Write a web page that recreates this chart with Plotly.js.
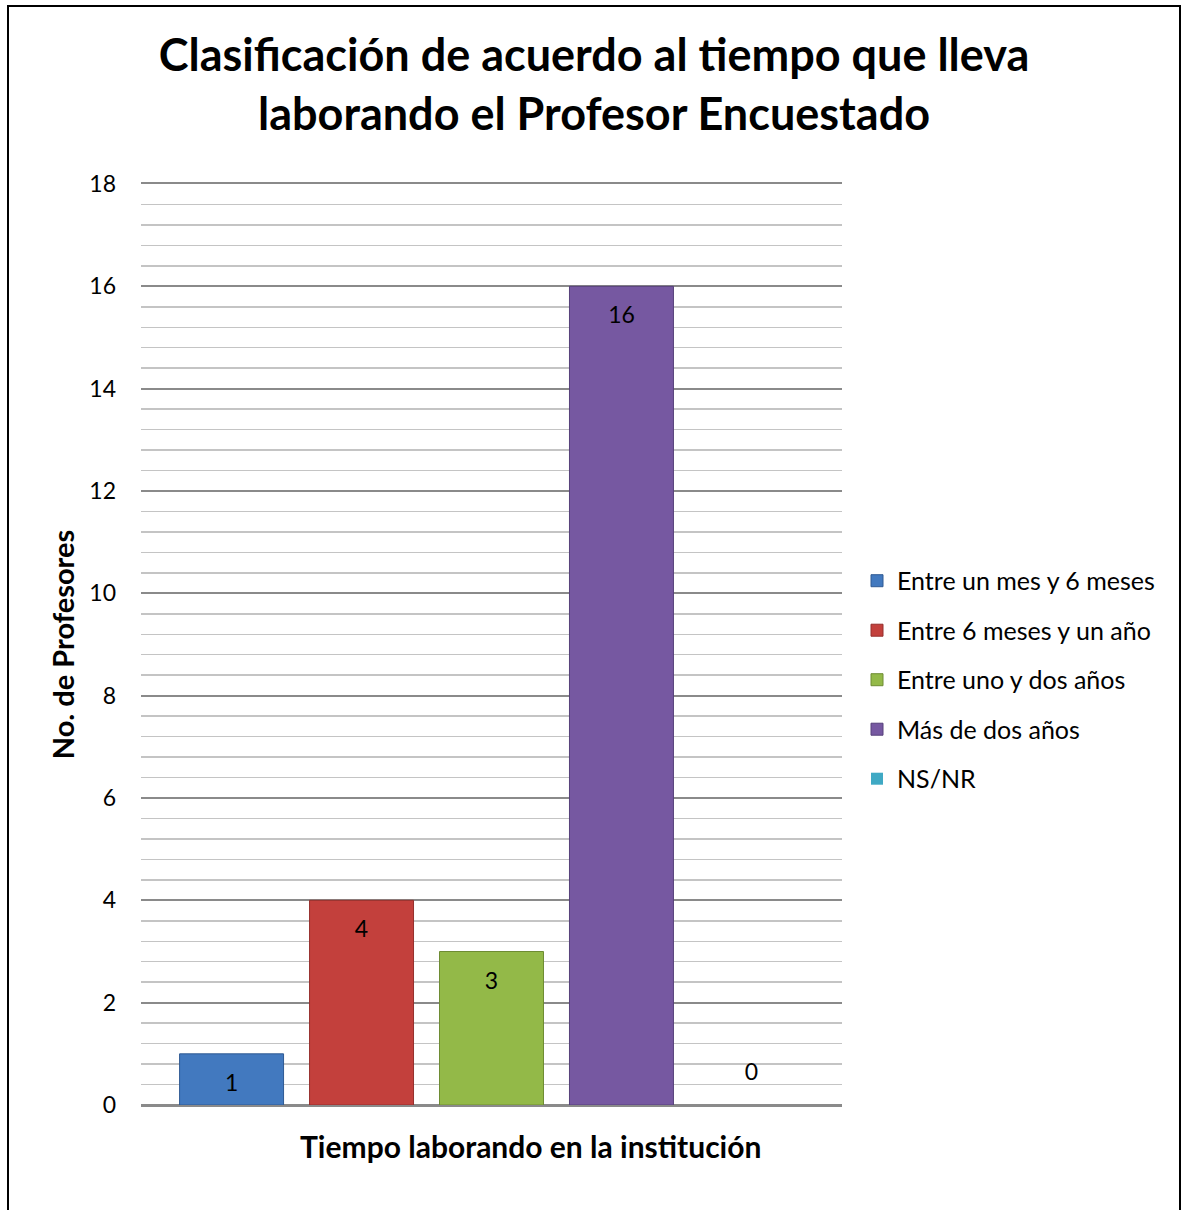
<!DOCTYPE html>
<html>
<head>
<meta charset="utf-8">
<script src="https://cdn.plot.ly/plotly-3.0.1.min.js"></script>
<style>
  html, body { margin: 0; padding: 0; background: #ffffff; }
  #wrap { position: relative; width: 1181px; height: 1210px; overflow: hidden; }
  #chart { position: absolute; left: 0; top: 0; width: 1181px; height: 1210px; }
  #frame { position: absolute; left: 7px; top: 5px; width: 1174px; height: 1220px;
           border: 2px solid #000; pointer-events: none; box-sizing: border-box; }
</style>
</head>
<body>
<div id="wrap">
  <div id="chart"></div>
  <div id="frame"></div>
</div>
<script>
// ---- data ----
const category = ["Tiempo laborando en la institución"];
const seriesNames = ["Entre un mes y 6 meses", "Entre 6 meses y un año", "Entre uno y dos años", "Más de dos años", "NS/NR"];
const seriesValues = [1, 4, 3, 16, 0];
const seriesColors = ["#4279bf", "#c3403c", "#93b948", "#7658a1", "#3fa9c4"];
const seriesLines  = ["#2f5a93", "#952f2c", "#6e8c33", "#56407a", "#2d8199"];
const yTicks = [0, 2, 4, 6, 8, 10, 12, 14, 16, 18];

const FONT = "Lato, 'Open Sans', sans-serif";

const barTraces = seriesNames.map((name, i) => ({
  type: "bar",
  name: name,
  x: category,
  y: [seriesValues[i]],
  offsetgroup: "s" + i,
  marker: { color: seriesColors[i], line: { color: seriesLines[i], width: seriesValues[i] > 0 ? 1 : 0 } },
  legendgroup: "g" + i,
  hoverinfo: "skip"
}));

// data labels, grouped like the bars
const labelTraces = seriesNames.map((name, i) => ({
  type: "scatter",
  mode: "markers+text",
  name: name + " (etiqueta)",
  x: category,
  y: [seriesValues[i]],
  offsetgroup: "s" + i,
  text: [String(seriesValues[i])],
  textposition: seriesValues[i] > 0 ? "bottom center" : "top center",
  textfont: { family: FONT, size: 23, color: "#000000" },
  marker: { size: 30, color: "rgba(0,0,0,0)" },
  cliponaxis: false,
  showlegend: false,
  hoverinfo: "skip"
}));

const layout = {
  width: 1181,
  height: 1210,
  paper_bgcolor: "#ffffff",
  plot_bgcolor: "#ffffff",
  margin: { l: 141, r: 339, t: 184, b: 105 },
  font: { family: FONT, color: "#000000" },
  title: {
    text: "Clasificación de acuerdo al tiempo que lleva<br>laborando el Profesor Encuestado",
    font: { family: FONT, size: 45, color: "#000000", weight: "bold" },
    x: 0.503, xref: "container", xanchor: "center",
    y: 1 - 71 / 1210, yref: "container", yanchor: "top"
  },
  barmode: "group",
  bargap: 0.073,
  bargroupgap: 0.2,
  scattermode: "group",
  scattergap: 0.073,
  showlegend: true,
  legend: {
    x: 1.0214, xanchor: "left",
    y: 0.4615, yanchor: "middle",
    font: { family: FONT, size: 25, color: "#000000" },
    tracegroupgap: 14,
    itemwidth: 30,
    bgcolor: "rgba(0,0,0,0)"
  },
  xaxis: {
    type: "category",
    showticklabels: false,
    showgrid: false,
    zeroline: false,
    showline: true,
    mirror: true,
    linecolor: "#8a8a8a",
    linewidth: 2,
    ticks: ""
  },
  yaxis: {
    range: [0, 18],
    tickvals: yTicks,
    ticktext: yTicks.map(String),
    tickfont: { family: FONT, size: 23, color: "#000000" },
    ticks: "",
    ticklabelstandoff: 24,
    showgrid: true,
    gridcolor: "#8a8a8a",
    gridwidth: 2,
    zeroline: true,
    zerolinecolor: "#8a8a8a",
    zerolinewidth: 2,
    showline: false,
    minor: { dtick: 0.4, tick0: 0, showgrid: true, gridcolor: "#c4c4c4", gridwidth: 1.5, ticks: "" },
    title: {
      text: "No. de Profesores",
      font: { family: FONT, size: 29, color: "#000000", weight: "bold" },
      standoff: 6
    }
  },
  annotations: [{
    text: "Tiempo laborando en la institución",
    xref: "paper", yref: "paper",
    x: 0.556, y: -0.0445,
    xanchor: "center", yanchor: "middle",
    showarrow: false,
    font: { family: FONT, size: 30, color: "#000000", weight: "bold" }
  }]
};

Plotly.newPlot("chart", barTraces.concat(labelTraces), layout, { displayModeBar: false, staticPlot: true });
</script>
</body>
</html>
